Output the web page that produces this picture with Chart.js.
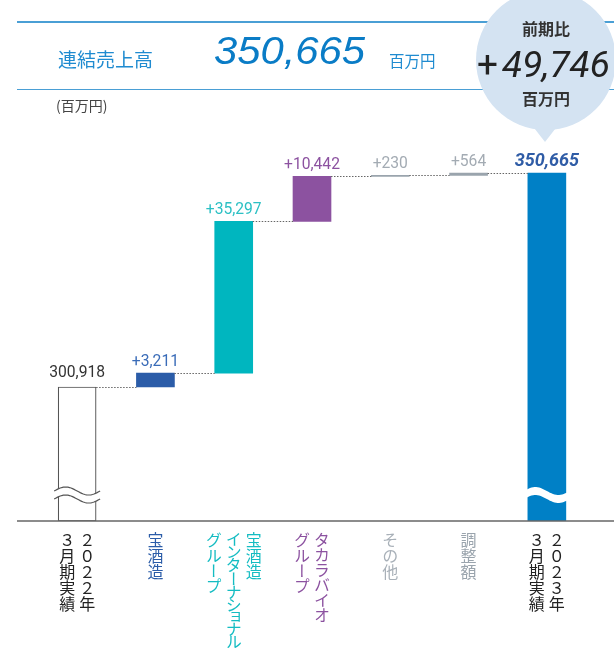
<!DOCTYPE html>
<html lang="ja">
<head>
  <meta charset="UTF-8">
  <title>連結売上高</title>
  <script src="https://cdn.jsdelivr.net/npm/chart.js@4.4.1/dist/chart.umd.min.js"></script>
  <style>
    /* 全体 */
    body { margin: 0; background: #fff; font-family: "Noto Sans CJK JP", "Noto Sans", sans-serif; }
    #wrap { position: relative; width: 614px; height: 655px; overflow: hidden; }
    #chart { position: absolute; left: 0; top: 0; }
    .rule { position: absolute; left: 17px; width: 597px; height: 1.5px; background: #4a9fd5; }
    .abs { position: absolute; white-space: nowrap; }
    .bubble { position: absolute; left: 476px; top: -10px; width: 140px; height: 140px; border-radius: 50%; background: #d4e3f2; }
    .tail { position: absolute; left: 531px; top: 124px; width: 0; height: 0;
            border-left: 14px solid transparent; border-right: 14px solid transparent; border-top: 18px solid #d4e3f2; }
    .cat { position: absolute; top: 532px; writing-mode: vertical-rl; text-orientation: upright;
           font-size: 16px; line-height: 20px; white-space: pre; transform: translateX(-50%); }
    .cat.kana { font-feature-settings: "vpal"; }
    .tight { letter-spacing: -1.6px; }
  </style>
</head>
<body>
<div id="wrap">
  <canvas id="chart" width="614" height="655"></canvas>

  <!-- ヘッダー -->
  <div class="rule" style="top:21px"></div>
  <div class="rule" style="top:88.5px"></div>
  <div class="abs" style="left:58px;top:45px;font-size:19px;color:#1f8bd0;">連結売上高</div>
  <div class="abs" style="left:214px;top:30px;font:italic 38px 'Liberation Sans';transform:scaleX(1.1);transform-origin:left;color:#0a7cc6;">350,665</div>
  <div class="abs" style="left:389px;top:49px;font-size:15.5px;color:#1f8bd0;">百万円</div>
  <div class="abs" style="left:56px;top:95px;font-size:14px;color:#444;">(百万円)</div>

  <!-- 前期比 -->
  <div class="bubble"></div>
  <div class="tail"></div>
  <div class="abs" style="left:496px;width:100px;text-align:center;top:16px;font-size:16px;font-weight:700;color:#333;">前期比</div>
  <div class="abs" style="left:477px;top:43px;color:#222;font:37px Roboto;"><span style="font-style:normal;margin-right:4px;">+</span><span style="font-style:italic;">49,746</span></div>
  <div class="abs" style="left:496px;width:100px;text-align:center;top:86px;font-size:16px;font-weight:700;color:#333;">百万円</div>

  <div id="cats"></div>
</div>

<script>
  // カテゴリ
  const categories = ["2022年3月期実績", "宝酒造", "宝酒造インターナショナルグループ", "タカラバイオグループ", "その他", "調整額", "2023年3月期実績"];
  // 縦書きラベル（右の列から）
  const labelLines = [
    ["２０２２年", "３月期実績"],
    ["宝酒造"],
    ["宝酒造", "インターナショナル", "グループ"],
    ["タカラバイオ", "グループ"],
    ["その他"],
    ["調整額"],
    ["２０２３年", "３月期実績"]
  ];
  // 値（百万円）
  const openingTotal = 300918;
  const changes = [3211, 35297, 10442, 230, 564];
  const closingTotal = 350665;

  // 色
  const barColors = ["#ffffff", "#2b5ca8", "#00b6bf", "#8c52a0", "#9aa4ad", "#9aa4ad", "#0080c6"];
  const valueColors = ["#333333", "#3a6cb8", "#2cc0c4", "#8c52a0", "#a3abb3", "#a3abb3", "#2f5ca6"];
  const catColors = ["#222222", "#2b5ca8", "#14bcc2", "#8c52a0", "#a8b0b8", "#9aa4ad", "#222222"];

  // 軸（省略線つき）
  const yMin = 269768, yMax = 367635, breakValue = 275810;

  // 積み上げ
  let run = openingTotal;
  const floating = [[yMin, openingTotal]];
  changes.forEach(v => { floating.push([run, run + v]); run += v; });
  floating.push([yMin, closingTotal]);

  const valueTexts = [openingTotal.toLocaleString("en-US")]
    .concat(changes.map(v => "+" + v.toLocaleString("en-US")))
    .concat([closingTotal.toLocaleString("en-US")]);

  function wave(ctx, x0, x1, yc, amp) {
    const n = 30;
    for (let i = 0; i <= n; i++) {
      const t = i / n;
      const x = x0 + (x1 - x0) * t;
      const y = yc - amp * Math.sin(t * Math.PI * 2);
      if (i === 0) ctx.moveTo(x, y); else ctx.lineTo(x, y);
    }
  }

  const waterfallPlugin = {
    id: "waterfall",
    afterDatasetsDraw(chart) {
      const ctx = chart.ctx;
      const bars = chart.getDatasetMeta(0).data;
      const y = chart.scales.y;

      // 点線
      ctx.save();
      ctx.strokeStyle = "#666";
      ctx.lineWidth = 1;
      ctx.setLineDash([1.5, 1.5]);
      for (let i = 0; i < bars.length - 1; i++) {
        const py = Math.round(y.getPixelForValue(floating[i][1])) + 0.5;
        ctx.beginPath();
        ctx.moveTo(bars[i].x + bars[i].width / 2, py);
        ctx.lineTo(bars[i + 1].x - bars[i + 1].width / 2, py);
        ctx.stroke();
      }
      ctx.restore();

      // 省略記号
      const by = y.getPixelForValue(breakValue);
      [0, bars.length - 1].forEach(i => {
        const b = bars[i];
        const x0 = b.x - b.width / 2 - 4, x1 = b.x + b.width / 2 + 4;
        ctx.save();
        ctx.beginPath();
        wave(ctx, x0, x1, by - 4, 4);
        const n = 30;
        for (let k = n; k >= 0; k--) {
          const t = k / n;
          ctx.lineTo(x0 + (x1 - x0) * t, by + 4 - 4 * Math.sin(t * Math.PI * 2));
        }
        ctx.closePath();
        ctx.fillStyle = "#fff";
        ctx.fill();
        if (i === 0) {
          ctx.strokeStyle = "#555";
          ctx.lineWidth = 1.2;
          ctx.beginPath(); wave(ctx, x0, x1, by - 4, 4); ctx.stroke();
          ctx.beginPath(); wave(ctx, x0, x1, by + 4, 4); ctx.stroke();
        }
        ctx.restore();
      });

      // 基線
      const base = y.getPixelForValue(yMin);
      ctx.save();
      ctx.strokeStyle = "#666";
      ctx.lineWidth = 1.5;
      ctx.beginPath();
      ctx.moveTo(17, base);
      ctx.lineTo(614, base);
      ctx.stroke();
      ctx.restore();

      // 数値ラベル
      bars.forEach((b, i) => {
        const top = y.getPixelForValue(floating[i][1]);
        ctx.save();
        ctx.fillStyle = valueColors[i];
        ctx.textAlign = "center";
        ctx.textBaseline = "alphabetic";
        ctx.translate(b.x, top - (i === 0 ? 10 : 7));
        if (i === bars.length - 1) {
          ctx.font = "italic bold 18px Roboto";
        } else {
          ctx.font = "17px Roboto";
          ctx.scale(0.92, 1);
        }
        ctx.fillText(valueTexts[i], 0, 0);
        ctx.restore();
      });
    },
    afterRender(chart) {
      const box = document.getElementById("cats");
      if (box.childElementCount) return;
      const x = chart.scales.x;
      labelLines.forEach((lines, i) => {
        const d = document.createElement("div");
        d.className = "cat" + (i === 2 || i === 3 ? " kana" : "");
        d.style.left = x.getPixelForValue(i) + "px";
        d.style.color = catColors[i];
        lines.forEach((line, k) => {
          const s = document.createElement("span");
          if (line.length > 6) s.className = "tight";
          s.textContent = line;
          d.appendChild(s);
          if (k < lines.length - 1) d.appendChild(document.createTextNode("\n"));
        });
        box.appendChild(d);
      });
    }
  };

  new Chart(document.getElementById("chart"), {
    type: "bar",
    data: {
      labels: categories,
      datasets: [{
        data: floating,
        backgroundColor: barColors,
        borderColor: ["#555", "transparent", "transparent", "transparent", "transparent", "transparent", "transparent"],
        borderWidth: [1.2, 0, 0, 0, 0, 0, 0],
        borderSkipped: false,
        barThickness: 38
      }]
    },
    options: {
      responsive: false,
      animation: false,
      layout: { padding: { left: 38, right: 28, top: 100, bottom: 134 } },
      scales: {
        x: { display: false },
        y: { display: false, min: yMin, max: yMax }
      },
      plugins: { legend: { display: false }, tooltip: { enabled: false } }
    },
    plugins: [waterfallPlugin]
  });
</script>
</body>
</html>
